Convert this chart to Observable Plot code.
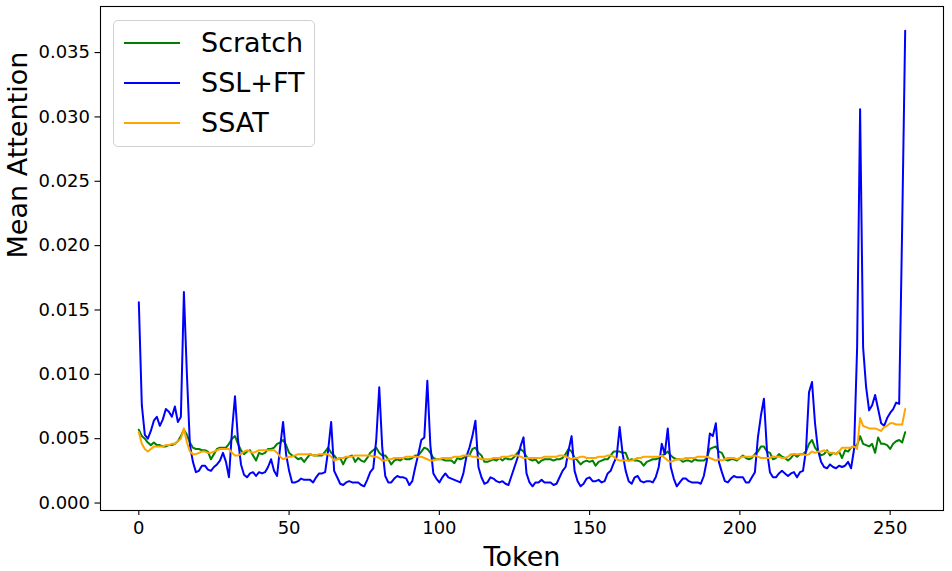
<!DOCTYPE html>
<html>
<head>
<meta charset="utf-8">
<script src="https://cdn.jsdelivr.net/npm/d3@7"></script>
<script src="https://cdn.jsdelivr.net/npm/@observablehq/plot@0.6"></script>
<style>
  html, body { margin: 0; padding: 0; background: #fff; }
  #wrap { position: relative; width: 952px; height: 571px; font-family: "DejaVu Sans", sans-serif; }
  #legend { position: absolute; left: 113px; top: 20px; width: 200px; height: 125px;
    border: 1px solid #d0d0d0; border-radius: 5px; background: rgba(255,255,255,0.8); }
  .row { position: absolute; left: 0; height: 0; }
  .sw { position: absolute; left: 10px; width: 56px; height: 2px; top: -1px; }
  .lab { position: absolute; left: 87px; top: -17px; font-size: 27px; line-height: 34px; white-space: nowrap; color: #000; }
</style>
</head>
<body>
<div id="wrap"></div>
<script>
const seriesNames = ["Scratch", "SSL+FT", "SSAT"];
const seriesColors = ["green", "blue", "orange"];
const xTicks = [0, 50, 100, 150, 200, 250];
const yTicks = [0, 0.005, 0.01, 0.015, 0.02, 0.025, 0.03, 0.035];

const scratch = [
0.0057,0.0052,0.0050,0.0047,0.0045,0.0047,0.0045,0.0045,0.0044,0.0044,0.0045,0.0045,0.0046,0.0048,0.0052,0.0057,
0.0053,0.0047,0.0043,0.0042,0.0042,0.0041,0.0041,0.0040,0.0034,0.0038,0.0042,0.0043,0.0043,0.0043,0.0046,0.0050,
0.0052,0.0046,0.0041,0.0038,0.0040,0.0041,0.0037,0.0033,0.0039,0.0038,0.0039,0.0042,0.0042,0.0043,0.0046,0.0047,
0.0049,0.0045,0.0039,0.0037,0.0036,0.0034,0.0035,0.0032,0.0035,0.0038,0.0037,0.0037,0.0037,0.0037,0.0040,0.0043,
0.0039,0.0037,0.0034,0.0035,0.0030,0.0035,0.0036,0.0037,0.0032,0.0035,0.0033,0.0032,0.0035,0.0039,0.0041,0.0043,
0.0039,0.0037,0.0037,0.0034,0.0030,0.0033,0.0034,0.0033,0.0035,0.0034,0.0034,0.0035,0.0037,0.0037,0.0040,0.0043,
0.0042,0.0039,0.0035,0.0034,0.0034,0.0034,0.0033,0.0033,0.0033,0.0031,0.0035,0.0034,0.0035,0.0037,0.0037,0.0042,
0.0043,0.0039,0.0037,0.0032,0.0032,0.0033,0.0034,0.0033,0.0035,0.0033,0.0035,0.0034,0.0034,0.0036,0.0039,0.0042,
0.0040,0.0036,0.0034,0.0033,0.0034,0.0031,0.0033,0.0034,0.0034,0.0034,0.0033,0.0034,0.0034,0.0035,0.0038,0.0042,
0.0040,0.0035,0.0033,0.0030,0.0032,0.0033,0.0032,0.0033,0.0029,0.0032,0.0033,0.0034,0.0034,0.0037,0.0040,0.0040,
0.0040,0.0039,0.0039,0.0033,0.0034,0.0033,0.0033,0.0032,0.0029,0.0032,0.0033,0.0034,0.0034,0.0035,0.0037,0.0038,
0.0040,0.0037,0.0035,0.0034,0.0034,0.0032,0.0033,0.0033,0.0032,0.0034,0.0033,0.0033,0.0033,0.0035,0.0042,0.0043,
0.0044,0.0040,0.0039,0.0034,0.0033,0.0034,0.0034,0.0033,0.0035,0.0037,0.0035,0.0034,0.0035,0.0038,0.0040,0.0044,
0.0044,0.0040,0.0039,0.0034,0.0035,0.0038,0.0036,0.0035,0.0033,0.0035,0.0038,0.0036,0.0038,0.0038,0.0040,0.0046,
0.0049,0.0043,0.0040,0.0037,0.0038,0.0041,0.0037,0.0039,0.0038,0.0040,0.0035,0.0041,0.0040,0.0043,0.0044,0.0045,
0.0052,0.0046,0.0045,0.0044,0.0046,0.0039,0.0051,0.0046,0.0046,0.0045,0.0042,0.0046,0.0048,0.0049,0.0047,0.0055
];

const sslft = [
0.0156,0.0076,0.0053,0.0050,0.0056,0.0064,0.0067,0.0060,0.0065,0.0073,0.0071,0.0067,0.0075,0.0063,0.0067,0.0164,
0.0100,0.0045,0.0032,0.0024,0.0025,0.0029,0.0029,0.0026,0.0025,0.0028,0.0030,0.0033,0.0039,0.0032,0.0020,0.0056,
0.0083,0.0049,0.0030,0.0022,0.0020,0.0023,0.0024,0.0021,0.0024,0.0023,0.0024,0.0028,0.0034,0.0025,0.0021,0.0043,
0.0063,0.0038,0.0025,0.0016,0.0016,0.0017,0.0019,0.0018,0.0018,0.0018,0.0016,0.0020,0.0023,0.0023,0.0024,0.0041,
0.0063,0.0025,0.0020,0.0015,0.0014,0.0016,0.0017,0.0016,0.0016,0.0016,0.0014,0.0013,0.0018,0.0024,0.0027,0.0049,
0.0090,0.0043,0.0021,0.0016,0.0016,0.0019,0.0021,0.0020,0.0020,0.0019,0.0014,0.0017,0.0028,0.0038,0.0049,0.0051,
0.0095,0.0045,0.0023,0.0019,0.0016,0.0020,0.0023,0.0020,0.0019,0.0018,0.0017,0.0016,0.0023,0.0036,0.0043,0.0052,
0.0064,0.0028,0.0020,0.0015,0.0016,0.0020,0.0019,0.0017,0.0016,0.0017,0.0015,0.0014,0.0021,0.0028,0.0035,0.0044,
0.0051,0.0023,0.0016,0.0013,0.0016,0.0016,0.0018,0.0016,0.0016,0.0016,0.0014,0.0015,0.0020,0.0025,0.0028,0.0041,
0.0052,0.0025,0.0017,0.0013,0.0015,0.0019,0.0020,0.0017,0.0017,0.0018,0.0016,0.0017,0.0023,0.0025,0.0031,0.0036,
0.0059,0.0038,0.0025,0.0017,0.0015,0.0020,0.0021,0.0017,0.0016,0.0017,0.0017,0.0016,0.0020,0.0028,0.0046,0.0038,
0.0058,0.0028,0.0019,0.0013,0.0016,0.0019,0.0019,0.0017,0.0016,0.0016,0.0016,0.0015,0.0021,0.0033,0.0054,0.0052,
0.0062,0.0032,0.0024,0.0017,0.0016,0.0019,0.0021,0.0020,0.0020,0.0020,0.0016,0.0016,0.0020,0.0024,0.0051,0.0068,
0.0081,0.0041,0.0024,0.0020,0.0020,0.0023,0.0025,0.0023,0.0021,0.0023,0.0024,0.0020,0.0024,0.0025,0.0041,0.0086,
0.0094,0.0062,0.0041,0.0032,0.0028,0.0027,0.0030,0.0028,0.0027,0.0029,0.0028,0.0029,0.0032,0.0027,0.0042,0.0120,
0.0306,0.0121,0.0090,0.0072,0.0076,0.0084,0.0073,0.0062,0.0060,0.0066,0.0070,0.0073,0.0078,0.0077,0.0215,0.0367
];

const ssat = [
0.0055,0.0046,0.0042,0.0040,0.0042,0.0044,0.0044,0.0044,0.0044,0.0045,0.0045,0.0046,0.0046,0.0048,0.0050,0.0058,
0.0047,0.0040,0.0038,0.0038,0.0039,0.0040,0.0040,0.0039,0.0039,0.0040,0.0041,0.0042,0.0042,0.0042,0.0042,0.0039,
0.0037,0.0037,0.0038,0.0040,0.0041,0.0040,0.0039,0.0040,0.0041,0.0041,0.0041,0.0041,0.0041,0.0041,0.0039,0.0036,
0.0034,0.0035,0.0036,0.0036,0.0037,0.0038,0.0038,0.0038,0.0038,0.0038,0.0037,0.0037,0.0038,0.0038,0.0038,0.0038,
0.0036,0.0033,0.0034,0.0035,0.0035,0.0036,0.0036,0.0036,0.0037,0.0037,0.0037,0.0037,0.0037,0.0037,0.0036,0.0036,
0.0035,0.0033,0.0033,0.0034,0.0034,0.0035,0.0035,0.0035,0.0035,0.0036,0.0036,0.0036,0.0036,0.0036,0.0036,0.0035,
0.0034,0.0033,0.0033,0.0034,0.0034,0.0035,0.0035,0.0035,0.0035,0.0036,0.0036,0.0036,0.0037,0.0037,0.0037,0.0036,
0.0036,0.0035,0.0034,0.0034,0.0034,0.0034,0.0035,0.0035,0.0035,0.0036,0.0036,0.0036,0.0037,0.0037,0.0037,0.0036,
0.0035,0.0035,0.0035,0.0035,0.0035,0.0035,0.0035,0.0036,0.0036,0.0036,0.0036,0.0036,0.0037,0.0037,0.0036,0.0035,
0.0034,0.0035,0.0035,0.0036,0.0036,0.0035,0.0035,0.0035,0.0035,0.0036,0.0036,0.0036,0.0037,0.0037,0.0036,0.0034,
0.0033,0.0033,0.0033,0.0033,0.0033,0.0034,0.0035,0.0035,0.0036,0.0036,0.0036,0.0036,0.0036,0.0036,0.0037,0.0035,
0.0033,0.0032,0.0033,0.0034,0.0034,0.0034,0.0035,0.0035,0.0035,0.0035,0.0036,0.0036,0.0036,0.0036,0.0035,0.0034,
0.0033,0.0034,0.0033,0.0034,0.0035,0.0035,0.0035,0.0034,0.0035,0.0036,0.0036,0.0036,0.0036,0.0037,0.0036,0.0035,
0.0035,0.0035,0.0035,0.0036,0.0036,0.0036,0.0035,0.0035,0.0036,0.0038,0.0038,0.0038,0.0038,0.0038,0.0037,0.0038,
0.0040,0.0039,0.0040,0.0040,0.0041,0.0040,0.0039,0.0039,0.0038,0.0040,0.0043,0.0043,0.0043,0.0043,0.0044,0.0042,
0.0066,0.0060,0.0059,0.0058,0.0058,0.0058,0.0057,0.0056,0.0059,0.0060,0.0062,0.0062,0.0061,0.0061,0.0061,0.0073
];

const seriesValues = [scratch, sslft, ssat];
const data = seriesValues.flatMap((vals, s) =>
  vals.map((v, i) => ({token: i, value: v, series: seriesNames[s]})));

const chart = Plot.plot({
  width: 952,
  height: 571,
  marginLeft: 100,
  marginRight: 9,
  marginTop: 6,
  marginBottom: 61,
  style: {fontFamily: "DejaVu Sans", background: "white", color: "black", overflow: "visible"},
  x: {domain: [-12.75, 267.75]},
  y: {domain: [-0.00058, 0.03858]},
  marks: [
    Plot.axisX({ticks: xTicks, tickSize: 5, tickPadding: 6, fontSize: 18, label: null, strokeWidth: 1.1}),
    Plot.axisY({ticks: yTicks, tickSize: 5.5, tickPadding: 5, fontSize: 18, label: null,
      tickFormat: d3.format(".3f"), strokeWidth: 1.1}),
    ...seriesNames.map((name, s) =>
      Plot.lineY(data.filter(d => d.series === name),
        {x: "token", y: "value", stroke: seriesColors[s], strokeWidth: 2, strokeLinejoin: "round"})),
    Plot.frame({stroke: "black", strokeWidth: 1.1}),
    Plot.text(["Token"], {frameAnchor: "bottom", lineAnchor: "bottom", dy: 55, fontSize: 27}),
    Plot.text(["Mean Attention"], {frameAnchor: "left", lineAnchor: "bottom", rotate: -90, dx: -74, fontSize: 27})
  ]
});

const wrap = document.getElementById("wrap");
wrap.appendChild(chart);

const legend = document.createElement("div");
legend.id = "legend";
seriesNames.forEach((name, s) => {
  const row = document.createElement("div");
  row.className = "row";
  row.style.top = (22 + s * 40) + "px";
  const sw = document.createElement("div");
  sw.className = "sw";
  sw.style.background = seriesColors[s];
  const lab = document.createElement("div");
  lab.className = "lab";
  lab.textContent = name;
  row.appendChild(sw);
  row.appendChild(lab);
  legend.appendChild(row);
});
wrap.appendChild(legend);
</script>
</body>
</html>
